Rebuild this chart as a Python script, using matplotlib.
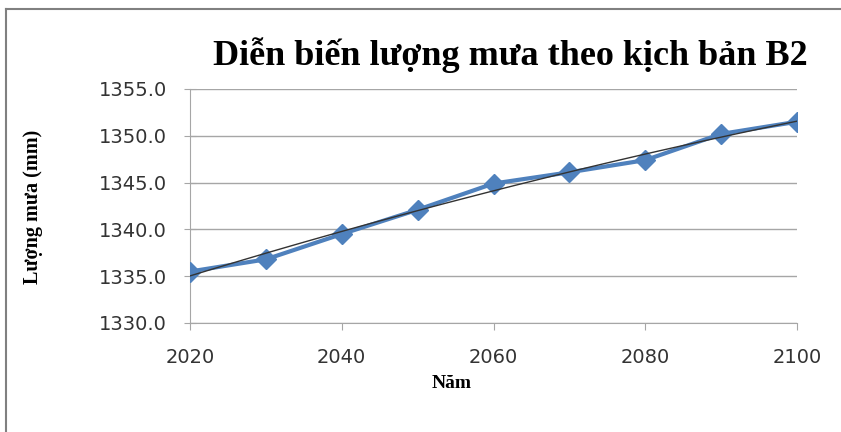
import matplotlib
matplotlib.use("Agg")
import matplotlib.pyplot as plt
import numpy as np
from matplotlib.lines import Line2D

years = [2020, 2030, 2040, 2050, 2060, 2070, 2080, 2090, 2100]
rainfall = [1335.5, 1336.8, 1339.5, 1342.1, 1344.9, 1346.1, 1347.4, 1350.2, 1351.5]
yticks = [1330.0, 1335.0, 1340.0, 1345.0, 1350.0, 1355.0]
xticks = [2020, 2040, 2060, 2080, 2100]
title = "Diễn biến lượng mưa theo kịch bản B2"
xlabel = "Năm"
ylabel = "Lượng mưa (mm)"

fig = plt.figure(figsize=(8.41, 4.32), dpi=100)
fl, ft = 5.5/841, 1 - 8.5/432
fig.lines.append(Line2D([fl, 1.05], [ft, ft], transform=fig.transFigure, color="#808080", linewidth=1.5))
fig.lines.append(Line2D([fl, fl], [-0.05, ft], transform=fig.transFigure, color="#808080", linewidth=1.5))
ax = fig.add_axes([190/841, 1 - 323/432, (797 - 190)/841, (323 - 89)/432])

ax.plot(years, rainfall, color="#4F81BD", linewidth=3, marker="D", markersize=10,
        markerfacecolor="#4F81BD", markeredgecolor="#4F81BD", zorder=3)
coef = np.polyfit(years, rainfall, 2)
xs = np.linspace(years[0], years[-1], 100)
ax.plot(xs, np.polyval(coef, xs), color="#333333", linewidth=1, zorder=4)

ax.set_xlim(2020, 2100)
ax.set_ylim(1330, 1355)
ax.set_yticks(yticks)
ax.set_yticklabels([f"{v:.1f}" for v in yticks])
ax.set_xticks(xticks)
ax.grid(axis="y", color="#A6A6A6", linewidth=1)
ax.set_axisbelow(True)
for s in ["top", "right"]:
    ax.spines[s].set_visible(False)
for s in ["left", "bottom"]:
    ax.spines[s].set_color("#A6A6A6")
ax.tick_params(axis="y", direction="inout", length=9, color="#A6A6A6", pad=12,
               labelsize=14, labelcolor="#333333")
ax.tick_params(axis="x", direction="out", length=5, color="#A6A6A6", pad=13,
               labelsize=14, labelcolor="#333333")
for lab in ax.get_xticklabels() + ax.get_yticklabels():
    lab.set_fontfamily("DejaVu Sans")

fig.text(510/841, 1 - 55/432, title, ha="center", va="center",
         fontfamily="Liberation Serif", fontweight="bold", fontsize=26)
fig.text(452/841, 1 - 384/432, xlabel, ha="center", va="center",
         fontfamily="Liberation Serif", fontweight="bold", fontsize=14)
fig.text(33/841, 1 - 207/432, ylabel, ha="center", va="center", rotation=90,
         fontfamily="Liberation Serif", fontweight="bold", fontsize=14.5)

fig.savefig("out.png", dpi=100)
